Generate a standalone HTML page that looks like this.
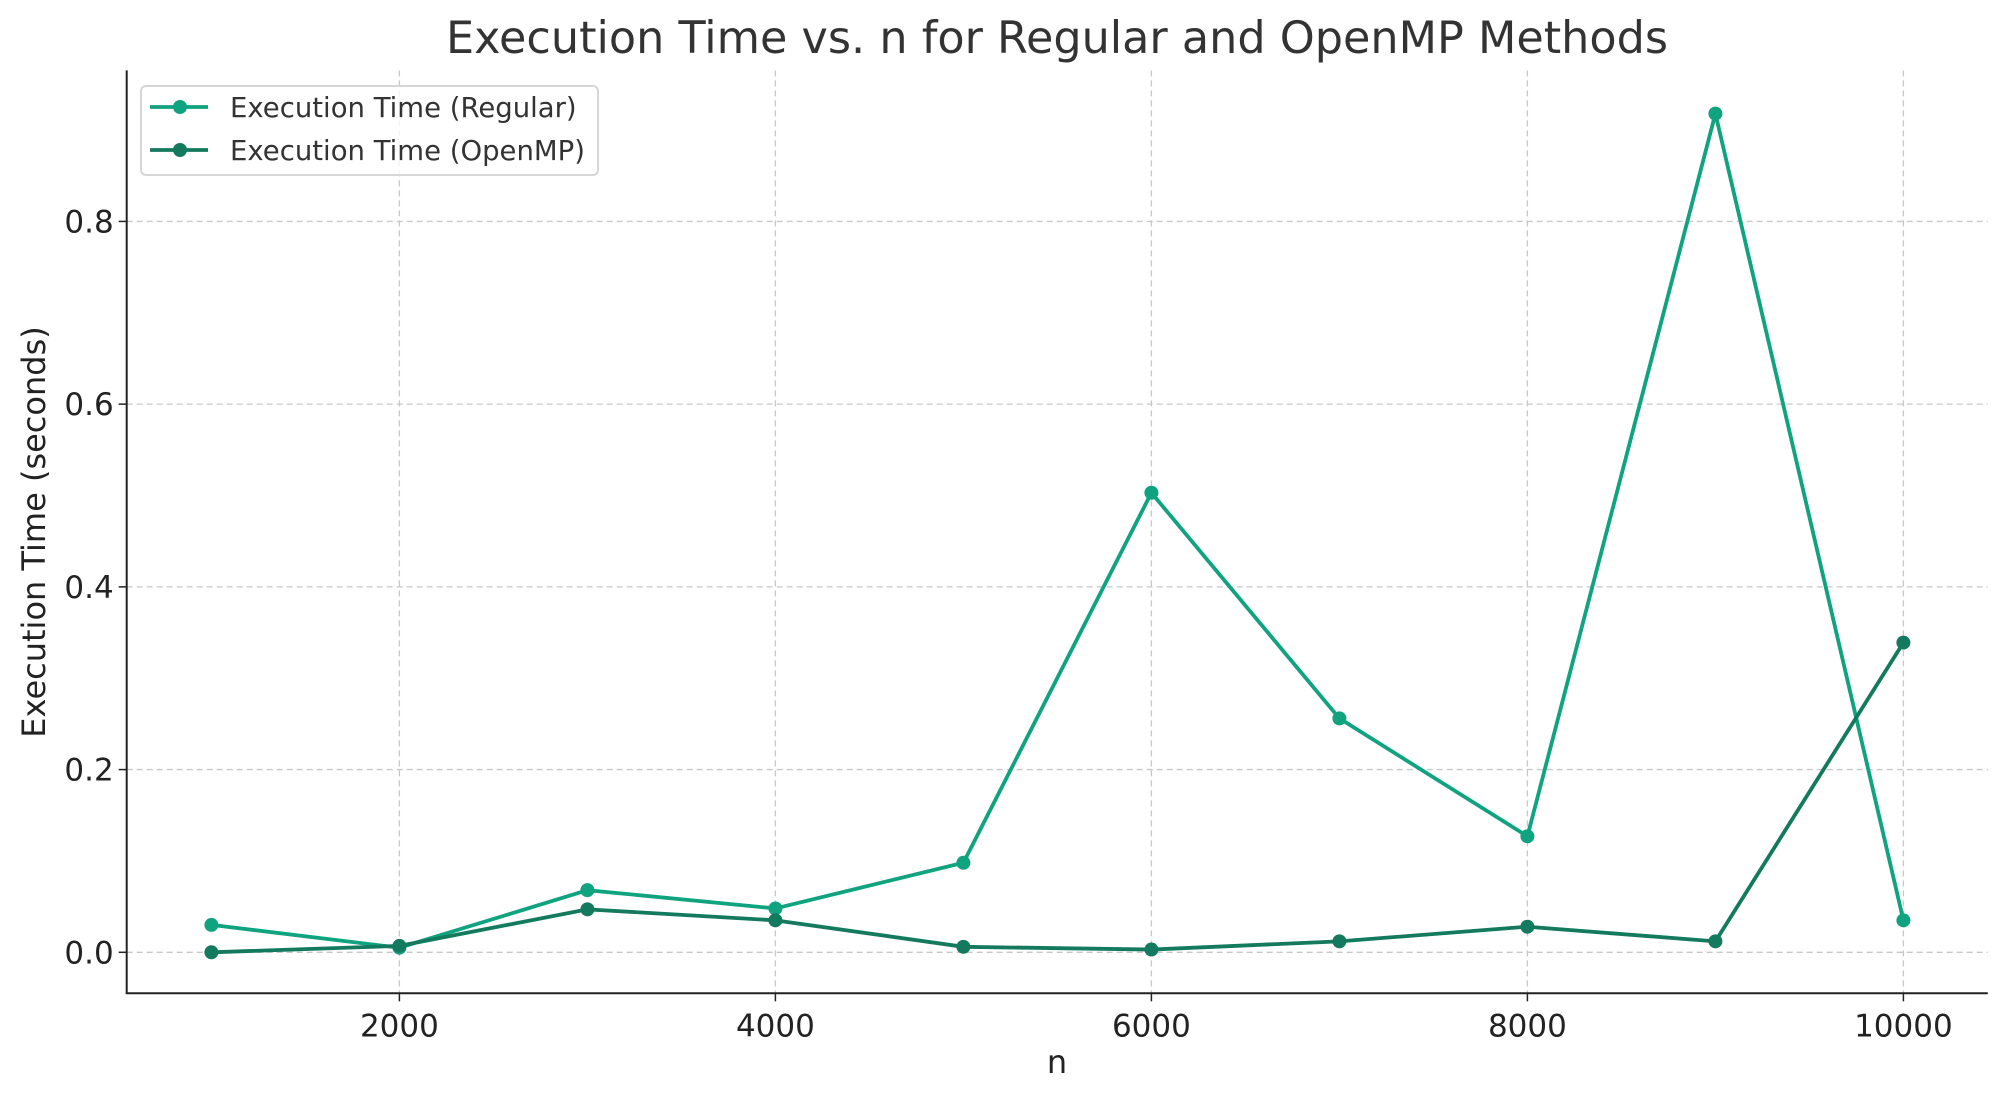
<!DOCTYPE html>
<html><head><meta charset="utf-8"><style>
html,body{margin:0;padding:0;background:#fff;}
svg{display:block;font-family:"DejaVu Sans","Liberation Sans",sans-serif;}
</style></head><body>
<svg id="chart" width="2007" height="1101" viewBox="0 0 2007 1101">
<text x="1057" y="53" text-anchor="middle" font-size="44.5" fill="#333">Execution Time vs. n for Regular and OpenMP Methods</text>
<g id="grid"></g>
<g id="axes"></g>
<g id="series"></g>
<text x="1057" y="1073" text-anchor="middle" font-size="32" fill="#222">n</text>
<text transform="translate(45,532) rotate(-90)" text-anchor="middle" font-size="32" fill="#222">Execution Time (seconds)</text>
<g>
<rect x="141" y="86" width="457" height="89" rx="5" fill="#fff" fill-opacity="0.8" stroke="#d6d6d6" stroke-width="2"/>
<g>
<line x1="150" y1="107" x2="208" y2="107" stroke="#10a37f" stroke-width="3.8"/>
<circle cx="180" cy="107" r="7" fill="#10a37f"/>
<text x="230" y="117" font-size="27.5" fill="#333">Execution Time (Regular)</text>
</g>
<g>
<line x1="150" y1="150" x2="208" y2="150" stroke="#147a5e" stroke-width="3.8"/>
<circle cx="180" cy="150" r="7" fill="#147a5e"/>
<text x="230" y="160" font-size="27.5" fill="#333">Execution Time (OpenMP)</text>
</g>
</g>
</svg>
<script>
const nValues = [1000,2000,3000,4000,5000,6000,7000,8000,9000,10000];
const regularTimes = [0.030,0.005,0.068,0.048,0.098,0.503,0.256,0.127,0.918,0.035];
const openmpTimes = [0.000,0.007,0.047,0.035,0.006,0.003,0.012,0.028,0.012,0.339];
const xTicks = [2000,4000,6000,8000,10000];
const yTicks = [0.0,0.2,0.4,0.6,0.8];
const yTickLabels = ["0.0","0.2","0.4","0.6","0.8"];

const L=126.7,R=1987.8,T=70.4,B=993.3;
function xs(v){return 399.4+(v-2000)*0.188;}
function ys(v){return 952.3-v*913.6;}
const NS="http://www.w3.org/2000/svg";
function mk(tag,attrs,parent){const e=document.createElementNS(NS,tag);for(const k in attrs)e.setAttribute(k,attrs[k]);parent.appendChild(e);return e;}
const grid=document.getElementById('grid'),axes=document.getElementById('axes'),series=document.getElementById('series');
xTicks.forEach(t=>{
  const g=mk('line',{x1:xs(t),x2:xs(t),y1:T,y2:B,stroke:'#c8c8c8','stroke-width':1.3,'stroke-dasharray':'6,4'},grid);
  
  
  const tk=mk('line',{x1:xs(t),x2:xs(t),y1:B,y2:B+8,stroke:'#222','stroke-width':1.5},axes);
  
  
  const lb=mk('text',{x:xs(t),y:B+43,'text-anchor':'middle','font-size':31,fill:'#222'},axes);
  lb.textContent=t;
  
  
});
yTicks.forEach((t,i)=>{
  const g=mk('line',{x1:L,x2:R,y1:ys(t),y2:ys(t),stroke:'#c8c8c8','stroke-width':1.3,'stroke-dasharray':'6,4'},grid);
  
  
  const tk=mk('line',{x1:L-8,x2:L,y1:ys(t),y2:ys(t),stroke:'#222','stroke-width':1.5},axes);
  
  
  const lb=mk('text',{x:L-13,y:ys(t)+11,'text-anchor':'end','font-size':31,fill:'#222'},axes);
  lb.textContent=yTickLabels[i];
  
  
});
const ya=mk('line',{x1:L,x2:L,y1:T,y2:B,stroke:'#222','stroke-width':2},axes);


const xa=mk('line',{x1:L-1,x2:R,y1:B,y2:B,stroke:'#222','stroke-width':2},axes);


function drawSeries(vals,color,name){
  const pts=nValues.map((n,i)=>xs(n)+','+ys(vals[i])).join(' ');
  const pl=mk('polyline',{points:pts,fill:'none',stroke:color,'stroke-width':3.8,'stroke-linejoin':'round'},series);
  
  
  nValues.forEach((n,i)=>{
    const c=mk('circle',{cx:xs(n),cy:ys(vals[i]),r:7,fill:color},series);
    
    
  });
}
drawSeries(regularTimes,'#10a37f','regular');
drawSeries(openmpTimes,'#147a5e','openmp');
</script>
</body></html>
